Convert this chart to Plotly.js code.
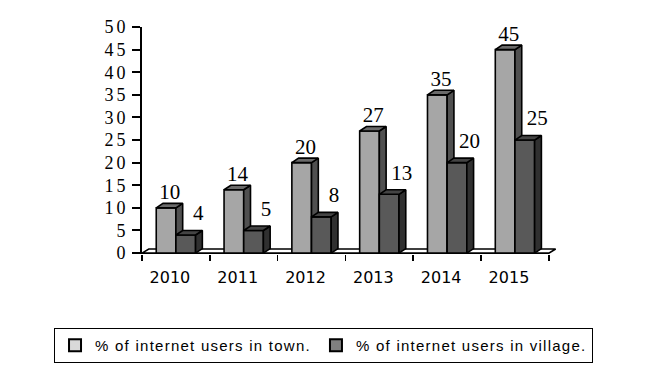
<!DOCTYPE html>
<html>
<head>
<meta charset="utf-8">
<script src="https://cdn.plot.ly/plotly-3.0.1.min.js"></script>
<style>
html,body{margin:0;padding:0;background:#fff;}
#chart{width:665px;height:375px;}
.legendtext{letter-spacing:1.25px;}
#chart .ytick text{letter-spacing:3px;}
</style>
</head>
<body>
<div id="chart"></div>
<script>
// ---- data ----
const years = ['2010', '2011', '2012', '2013', '2014', '2015'];
const townUsers = [10, 14, 20, 27, 35, 45];
const villageUsers = [4, 5, 8, 13, 20, 25];
const seriesNames = ['% of internet users in town.', '% of internet users in village.'];

// ---- geometry / style (not data) ----
const BW = 0.29;      // bar width in category units
const DX = 0.10;      // 3D depth, x (category units)
const DY = 1.0;       // 3D depth, y (value units)
const FLOOR_DY = 0.9;
const idx = years.map((_, i) => i);

function joinPolys(polys) {
  const xs = [], ys = [];
  polys.forEach((p, k) => {
    if (k > 0) { xs.push(null); ys.push(null); }
    xs.push(...p[0]); ys.push(...p[1]);
  });
  return [xs, ys];
}
function frontFace(x0, x1, v) { return [[x0, x1, x1, x0, x0], [0, 0, v, v, 0]]; }
function sideFace(x1, v) { return [[x1, x1 + DX, x1 + DX, x1, x1], [0, DY, v + DY, v, 0]]; }
function topFace(x0, x1, v) { return [[x0, x1, x1 + DX, x0 + DX, x0], [v, v, v + DY, v + DY, v]]; }

function poly(xy, color, name) {
  return {
    type: 'scatter', mode: 'lines', x: xy[0], y: xy[1],
    fill: 'toself', fillcolor: color,
    line: {color: '#000', width: 1.6},
    hoverinfo: 'skip', showlegend: false, name: name
  };
}

const traces = [];
const n = years.length;
// floor (its front edge is the x axis line)
traces.push(poly([[-0.5, n - 0.5, n - 0.5 + DX, -0.5 + DX, -0.5], [0, 0, FLOOR_DY, FLOOR_DY, 0]], '#ffffff', 'floor'));

function addSeries(vals, off, cFront, cSide, cTop) {
  const x0 = idx.map(i => i + off), x1 = idx.map(i => i + off + BW);
  traces.push(poly(joinPolys(vals.map((v, i) => frontFace(x0[i], x1[i], v))), cFront, 'front'));
  traces.push(poly(joinPolys(vals.map((v, i) => sideFace(x1[i], v))), cSide, 'side'));
  traces.push(poly(joinPolys(vals.map((v, i) => topFace(x0[i], x1[i], v))), cTop, 'top'));
}
addSeries(townUsers, -BW, '#a6a6a6', '#505050', '#6a6a6a');
addSeries(villageUsers, 0, '#595959', '#303030', '#444444');

// data labels
const labelFont = {family: 'Liberation Serif, Times New Roman, serif', size: 21, color: '#000'};
traces.push({
  type: 'scatter', mode: 'text', x: idx.map(i => i - 0.09), y: townUsers.map(v => v + DY + 2.1),
  text: townUsers.map(String), textposition: 'middle center', cliponaxis: false,
  textfont: labelFont, hoverinfo: 'skip', showlegend: false
});
traces.push({
  type: 'scatter', mode: 'text', x: idx.map(i => i + 0.33), y: villageUsers.map(v => v + DY + 3.4),
  text: villageUsers.map(String), textposition: 'middle center', cliponaxis: false,
  textfont: labelFont, hoverinfo: 'skip', showlegend: false
});

// legend-only entries
traces.push({type: 'bar', x: idx, y: idx.map(() => null), name: seriesNames[0],
  marker: {color: '#d9d9d9', line: {color: '#000', width: 2}}, hoverinfo: 'skip'});
traces.push({type: 'bar', x: idx, y: idx.map(() => null), name: seriesNames[1],
  marker: {color: '#808080', line: {color: '#000', width: 2}}, hoverinfo: 'skip'});

const boundaries = [];
for (let i = 0; i <= n; i++) boundaries.push(i - 0.5);

const layout = {
  width: 665, height: 375,
  margin: {l: 142, r: 108, t: 27, b: 121, autoexpand: false},
  paper_bgcolor: '#fff', plot_bgcolor: 'rgba(0,0,0,0)',
  font: {family: 'Liberation Serif, Times New Roman, serif', color: '#000'},
  showlegend: true,
  xaxis: {
    range: [-0.5, n - 0.5 + DX + 0.02], showgrid: false, zeroline: false, showline: false,
    automargin: false,
    tickmode: 'array', tickvals: idx, ticktext: years, ticks: '',
    ticklabelstandoff: 12, ticklabelshift: -6,
    tickfont: {family: 'DejaVu Sans, Verdana, sans-serif', size: 16, color: '#000'},
    minor: {tickmode: 'array', tickvals: boundaries, ticks: 'outside', ticklen: 6, tickwidth: 1.5, tickcolor: '#000', showgrid: false},
    fixedrange: true
  },
  yaxis: {
    range: [-0.2, 50], showgrid: false, zeroline: false, automargin: false,
    showline: true, linecolor: '#000', linewidth: 2,
    tickmode: 'linear', tick0: 0, dtick: 5,
    ticks: 'outside', ticklen: 8, tickwidth: 2, tickcolor: '#000',
    tickfont: {family: 'Liberation Serif, Times New Roman, serif', size: 18, color: '#000'},
    fixedrange: true
  },
  legend: {
    orientation: 'h', x: -0.212, xanchor: 'left', y: -0.326, yanchor: 'top',
    bordercolor: '#000', borderwidth: 1, bgcolor: '#fff',
    font: {family: 'Liberation Sans, Arial, sans-serif', size: 15, color: '#000'},
    traceorder: 'normal', itemclick: false, itemdoubleclick: false
  },
  barmode: 'overlay'
};

Plotly.newPlot('chart', traces, layout, {staticPlot: true, displayModeBar: false});
</script>
</body>
</html>
